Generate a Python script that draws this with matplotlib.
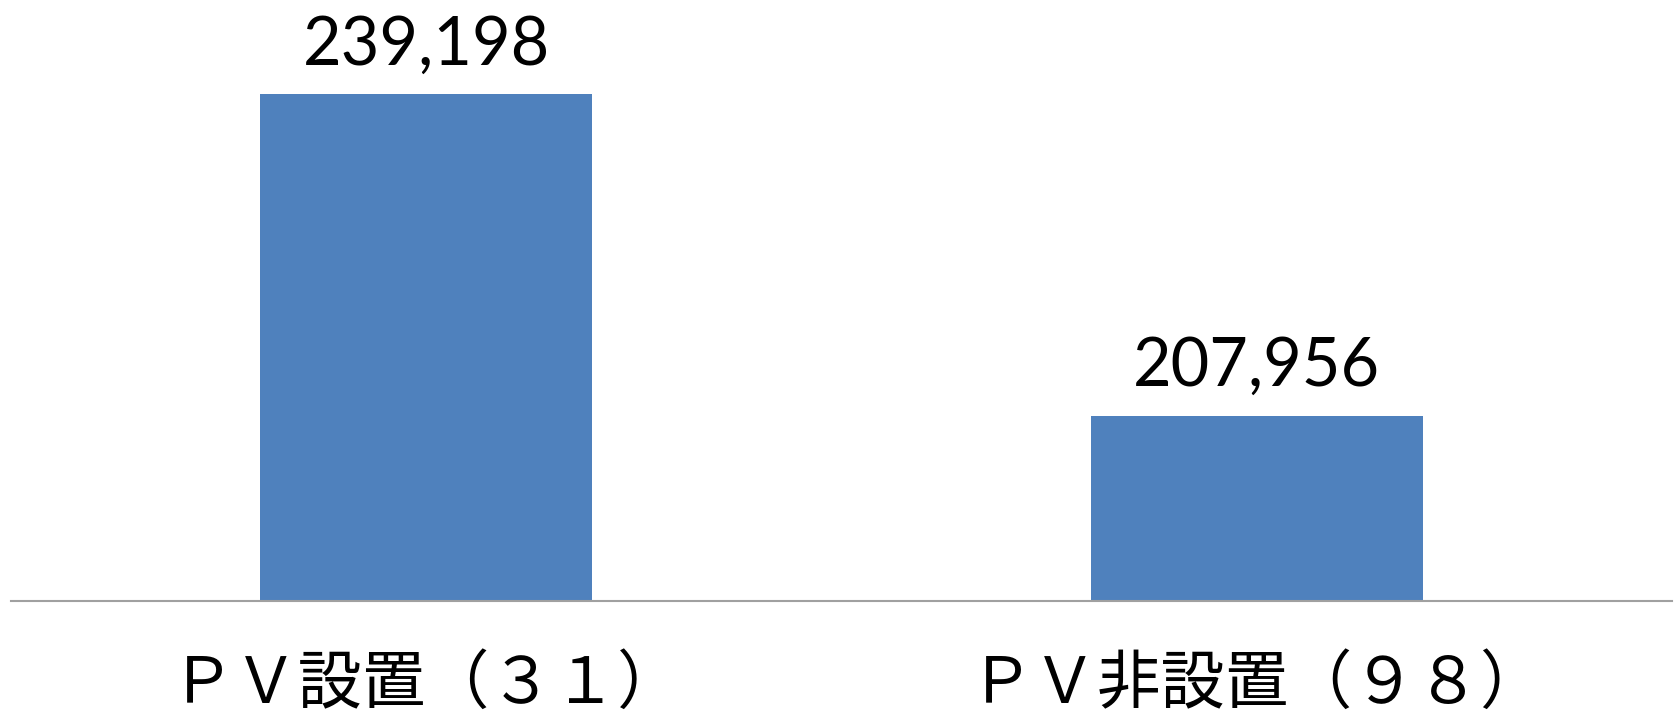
import matplotlib.pyplot as plt

# データ
categories = ['ＰＶ設置（３１）', 'ＰＶ非設置（９８）']
values = [239198, 207956]

fig = plt.figure(figsize=(16.77, 7.16), dpi=100)
ax = fig.add_axes([0.0066, 0.1606, 0.9905, 0.863])

x = list(range(len(categories)))
ax.bar(x, values, width=0.4, color='#4F81BD')
ax.set_xlim(-0.5, 1.5)
ax.set_ylim(190000, 250000)

# 値ラベル
for xi, v in zip(x, values):
    ax.annotate(f'{v:,}', (xi, v), xytext=(0, 21.6), textcoords='offset points',
                ha='center', va='baseline', fontsize=48, family='Lato')

# 軸
for s in ['top', 'right', 'left']:
    ax.spines[s].set_visible(False)
ax.spines['bottom'].set_color('#A0A0A0')
ax.spines['bottom'].set_linewidth(1.5)
ax.set_yticks([])
ax.set_xticks(x)
ax.set_xticklabels(categories, family=['Noto Sans CJK JP', 'DejaVu Sans'], fontsize=46)
ax.tick_params(axis='x', length=0, pad=36)

fig.savefig('out.png', dpi=100)
